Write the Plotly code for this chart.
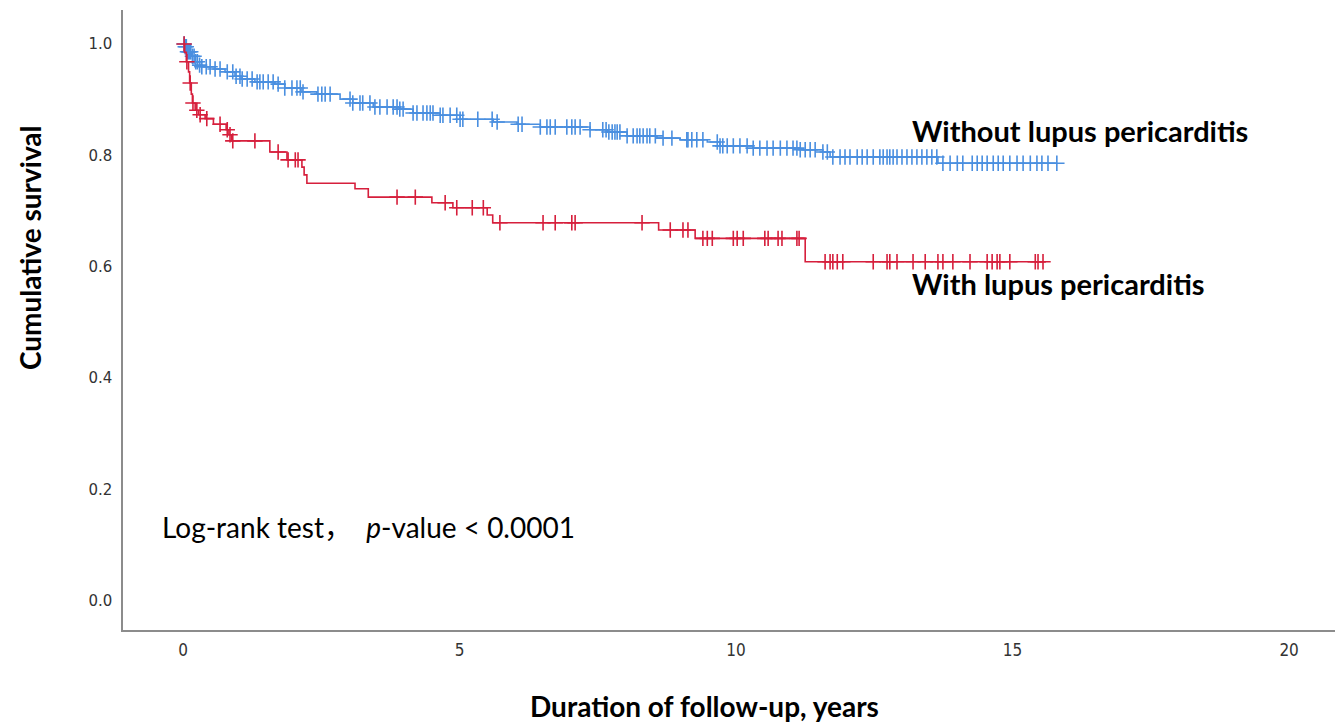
import plotly.graph_objects as go
import bisect

# ---- data (years, cumulative survival) ----
without_step_t = [0.0, 0.04, 0.08, 0.15, 0.22, 0.30, 0.34, 0.58, 0.76, 0.94, 1.05, 1.30, 1.66, 1.84,
                  2.15, 2.42, 2.84, 3.07, 3.44, 3.92, 4.16, 4.65, 5.01, 5.61, 6.04, 6.46, 7.36, 7.67,
                  8.03, 8.57, 8.99, 9.48, 9.71, 10.31, 11.16, 11.57, 11.70, 13.65]
without_step_s = [1.0, 0.995, 0.986, 0.978, 0.968, 0.962, 0.959, 0.955, 0.950, 0.942, 0.937, 0.932, 0.928, 0.921,
                  0.914, 0.910, 0.901, 0.894, 0.887, 0.883, 0.876, 0.872, 0.865, 0.860, 0.856, 0.851, 0.846, 0.842,
                  0.835, 0.831, 0.828, 0.824, 0.817, 0.813, 0.810, 0.806, 0.797, 0.786]
without_end = 15.80
without_censor = [0.02, 0.04, 0.06, 0.08, 0.10, 0.12, 0.14, 0.17, 0.20, 0.23, 0.26, 0.30, 0.34,
                  0.42, 0.49, 0.58, 0.67, 0.80, 0.90, 0.96, 1.03, 1.07, 1.16, 1.25, 1.34, 1.39, 1.45,
                  1.54, 1.63, 1.72, 1.84, 1.97, 2.06, 2.12, 2.17, 2.44, 2.51, 2.57, 2.66, 3.02, 3.07,
                  3.20, 3.25, 3.38, 3.47, 3.56, 3.69, 3.80, 3.87, 3.92, 3.98, 4.16, 4.23, 4.34, 4.41,
                  4.47, 4.52, 4.65, 4.70, 4.83, 4.95, 5.01, 5.06, 5.33, 5.59, 5.68, 6.06, 6.13, 6.46,
                  6.58, 6.64, 6.73, 6.94, 7.03, 7.09, 7.18, 7.36, 7.59, 7.65, 7.70, 7.76, 7.81, 7.85,
                  7.90, 8.03, 8.14, 8.21, 8.26, 8.32, 8.39, 8.44, 8.54, 8.68, 8.84, 9.11, 9.13, 9.20,
                  9.29, 9.40, 9.66, 9.71, 9.76, 9.84, 9.95, 10.07, 10.20, 10.31, 10.43, 10.56, 10.67,
                  10.80, 10.92, 11.03, 11.10, 11.16, 11.25, 11.34, 11.43, 11.57, 11.65, 11.75, 11.88,
                  11.97, 12.06, 12.19, 12.28, 12.37, 12.48, 12.60, 12.66, 12.73, 12.78, 12.84, 12.91,
                  13.00, 13.09, 13.18, 13.27, 13.36, 13.45, 13.54, 13.63, 13.74, 13.87, 14.00, 14.10,
                  14.27, 14.36, 14.45, 14.54, 14.65, 14.74, 14.83, 14.95, 15.08, 15.19, 15.32, 15.44,
                  15.53, 15.64, 15.80]

with_step_t = [0.0, 0.03, 0.06, 0.10, 0.12, 0.15, 0.17, 0.22, 0.28, 0.40, 0.55, 0.78, 0.83, 0.88,
               1.57, 1.88, 2.15, 2.19, 2.24, 3.11, 3.35, 4.50, 4.88, 5.50, 5.60, 8.60, 9.26, 11.25]
with_step_s = [1.0, 0.985, 0.968, 0.950, 0.930, 0.910, 0.894, 0.881, 0.873, 0.866, 0.856, 0.846, 0.837, 0.826,
               0.806, 0.792, 0.779, 0.765, 0.750, 0.740, 0.725, 0.715, 0.706, 0.693, 0.679, 0.666, 0.651, 0.609]
with_end = 15.60
with_censor = [0.02, 0.07, 0.13, 0.18, 0.25, 0.31, 0.43, 0.67, 0.80, 0.85, 0.90, 1.30, 1.72, 1.90, 2.03,
               2.08, 3.87, 4.20, 4.74, 4.95, 5.23, 5.43, 5.73, 6.51, 6.73, 7.03, 7.09, 8.30, 8.81, 9.04,
               9.13, 9.40, 9.48, 9.57, 9.95, 10.02, 10.13, 10.52, 10.58, 10.76, 10.83, 11.10, 11.14, 11.61,
               11.70, 11.75, 11.83, 11.93, 12.48, 12.73, 12.78, 12.91, 13.20, 13.42, 13.65, 13.74, 13.92,
               14.23, 14.54, 14.63, 14.72, 14.77, 14.95, 15.41, 15.46, 15.55]

x_ticks = [0, 5, 10, 15, 20]
y_ticks = [0.0, 0.2, 0.4, 0.6, 0.8, 1.0]
y_tick_text = ["0.0", "0.2", "0.4", "0.6", "0.8", "1.0"]

BLUE = "#4a8fe0"
RED = "#d61f3c"


def surv_at(t, ts, ss):
    i = bisect.bisect_right(ts, t) - 1
    return ss[max(i, 0)]


fig = go.Figure()
for ts, ss, end, cens, col in [(without_step_t, without_step_s, without_end, without_censor, BLUE),
                               (with_step_t, with_step_s, with_end, with_censor, RED)]:
    fig.add_trace(go.Scatter(x=ts + [end], y=ss + [ss[-1]], mode="lines",
                             line=dict(color=col, width=1.6, shape="hv"), showlegend=False,
                             hoverinfo="skip"))
    fig.add_trace(go.Scatter(x=cens, y=[surv_at(t, ts, ss) for t in cens], mode="markers",
                             marker=dict(symbol="cross-thin", size=11, line=dict(color=col, width=1.6)),
                             showlegend=False, hoverinfo="skip"))

# page offset of the plot div (default body margin)
OFF = 8
W, H = 1343 - OFF, 722 - OFF
L, R, T, B = 123 - OFF, 3, 10 - OFF, 92
pw, ph = W - L - R, H - T - B


def px2paper(px, py):
    # px, py are page pixel positions
    return (px - OFF - L) / pw, (H - B - (py - OFF)) / ph


TXT = "Lato, Open Sans, Noto Sans CJK SC, sans-serif"
labels = [
    ("<b>Without lupus pericarditis</b>", 910, 130, "left", 0, 29),
    ("<b>With lupus pericarditis</b>", 910, 283, "left", 0, 29),
    ("Log-rank test\uff0c  <i>p</i>-value < 0.0001", 160, 527, "left", 0, 28),
    ("<b>Cumulative survival</b>", 30, 248, "center", -90, 28),
    ("<b>Duration of follow-up, years</b>", 704, 706, "center", 0, 28),
]
for text, px, py, xa, ang, sz in labels:
    x, y = px2paper(px, py)
    fig.add_annotation(x=x, xref="paper", y=y, yref="paper", text=text, showarrow=False,
                       xanchor=xa, yanchor="middle", textangle=ang,
                       font=dict(family=TXT, size=sz, color="#000"))

fig.update_layout(
    width=W, height=H, margin=dict(l=L, r=R, t=T, b=B),
    plot_bgcolor="white", paper_bgcolor="white",
    xaxis=dict(range=[-1.085, 20.92], tickvals=x_ticks, showgrid=False, zeroline=False,
               showline=True, linecolor="#8c8c8c", linewidth=1.5, ticks="", ticklabelstandoff=4,
               tickfont=dict(family="Liberation Sans Narrow, DejaVu Sans Condensed, sans-serif", size=17, color="#333")),
    yaxis=dict(range=[-0.052, 1.061], tickvals=y_ticks, ticktext=y_tick_text, showgrid=False, zeroline=False,
               showline=True, linecolor="#8c8c8c", linewidth=1.5, ticks="", ticklabelstandoff=6,
               tickfont=dict(family="DejaVu Sans, sans-serif", size=15, color="#333")),
)

fig.write_html("out.html")
